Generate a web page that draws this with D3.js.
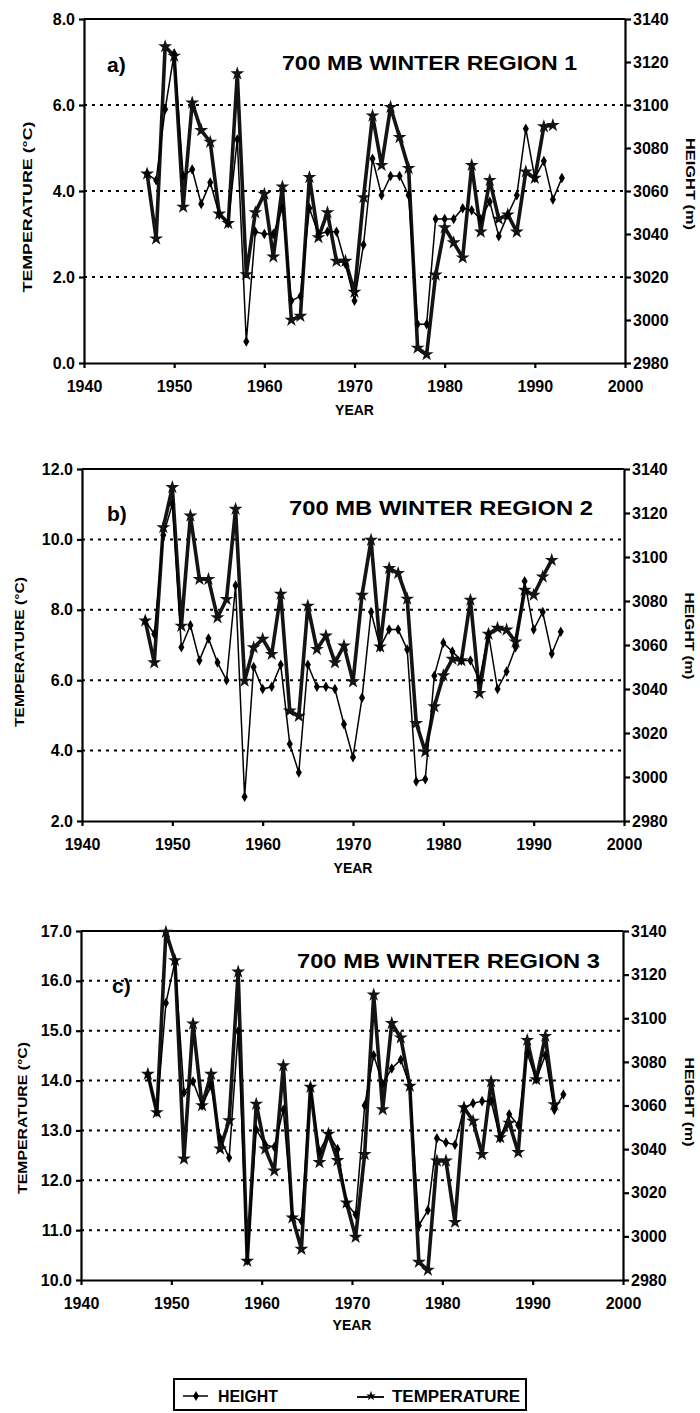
<!DOCTYPE html>
<head>
  <meta charset="utf-8">
  <title>700 MB Winter Regions</title>
  <script src="https://cdnjs.cloudflare.com/ajax/libs/d3/7.8.5/d3.min.js"></script>
</head>

<style>
  body {
    margin: 0;
    background: #fff;
    font-family: "Liberation Sans", Arial, sans-serif;
  }
  text {
    fill: #000;
  }
  .grid line {
    stroke: #000;
    stroke-width: 2;
    stroke-dasharray: 3 5;
  }
  .axis path, .axis line {
    stroke: #000;
    stroke-width: 2.2;
  }
  .axis text {
    font: bold 16px "Liberation Sans", Arial, sans-serif;
    fill: #000;
  }
  .temp-line {
    fill: none;
    stroke: #141414;
    stroke-width: 3.6;
    stroke-linejoin: round;
  }
  .height-line {
    fill: none;
    stroke: #000;
    stroke-width: 1.5;
  }
</style>

<body>
  <svg id="chart" width="700" height="1413"></svg>
</body>

<script>

var years = [1947, 1948, 1949, 1950, 1951, 1952, 1953, 1954, 1955, 1956,
             1957, 1958, 1959, 1960, 1961, 1962, 1963, 1964, 1965, 1966,
             1967, 1968, 1969, 1970, 1971, 1972, 1973, 1974, 1975, 1976,
             1977, 1978, 1979, 1980, 1981, 1982, 1983, 1984, 1985, 1986,
             1987, 1988, 1989, 1990, 1991, 1992, 1993];

// temperature (deg C), 1947-1992
var temp_a = [4.40, 2.89, 7.36, 7.14, 3.63, 6.05, 5.41, 5.14, 3.47, 3.25,
              6.73, 2.06, 3.50, 3.93, 2.47, 4.10, 1.00, 1.09, 4.32, 2.92,
              3.50, 2.37, 2.37, 1.65, 3.85, 5.75, 4.60, 5.95, 5.25, 4.53,
              0.35, 0.20, 2.05, 3.15, 2.80, 2.45, 4.60, 3.05, 4.25, 3.35,
              3.45, 3.05, 4.45, 4.30, 5.50, 5.53];
// height (m), 1947-1993
var height_a = [3068, 3065, 3098, 3124, 3067, 3070, 3054, 3064, 3049, 3045,
                3084, 2990, 3041, 3040, 3040, 3052, 3009, 3011, 3052, 3040,
                3041, 3041, 3026, 3009, 3035, 3075, 3058, 3067, 3067, 3058,
                2998, 2998, 3047, 3047, 3047, 3052, 3051, 3047, 3055, 3039,
                3049, 3058, 3089, 3066, 3074, 3056, 3066];

var temp_b = [7.69, 6.50, 10.34, 11.48, 7.54, 10.67, 8.87, 8.87, 7.78, 8.30,
              10.86, 5.98, 6.93, 7.17, 6.74, 8.45, 5.13, 4.98, 8.11, 6.88,
              7.26, 6.50, 6.98, 5.96, 8.42, 9.98, 6.95, 9.18, 9.04, 8.31,
              4.78, 3.97, 5.25, 6.13, 6.60, 6.56, 8.28, 5.63, 7.31, 7.48,
              7.43, 7.09, 8.56, 8.42, 8.94, 9.41];
var height_b = [3071, 3065, 3110, 3124, 3059, 3069, 3053, 3063, 3052, 3044,
                3087, 2991, 3050, 3040, 3041, 3051, 3015, 3002, 3051, 3041,
                3041, 3040, 3024, 3009, 3036, 3075, 3059, 3067, 3067, 3058,
                2998, 2999, 3046, 3061, 3057, 3053, 3053, 3044, 3065, 3040,
                3048, 3059, 3089, 3067, 3075, 3056, 3066];

var temp_c = [14.13, 13.36, 16.98, 16.41, 12.43, 15.14, 13.50, 14.13, 12.63, 13.20,
              16.18, 10.38, 13.53, 12.63, 12.19, 14.30, 11.25, 10.62, 13.87, 12.36,
              12.93, 12.40, 11.55, 10.86, 12.52, 15.72, 13.42, 15.15, 14.86, 13.89,
              10.36, 10.20, 12.39, 12.39, 11.16, 13.46, 13.19, 12.52, 13.98, 12.86,
              13.15, 12.56, 14.81, 14.02, 14.89, 13.52];
var height_c = [3074, 3057, 3107, 3126, 3066, 3071, 3060, 3069, 3045, 3036,
                3094, 2989, 3049, 3042, 3041, 3058, 3009, 3007, 3068, 3039,
                3047, 3040, 3015, 3010, 3060, 3083, 3070, 3077, 3081, 3069,
                3005, 3012, 3045, 3043, 3042, 3059, 3061, 3062, 3062, 3045,
                3056, 3051, 3084, 3072, 3083, 3058, 3065];

var year_ticks = [1940, 1950, 1960, 1970, 1980, 1990, 2000];
var height_ticks = [2980, 3000, 3020, 3040, 3060, 3080, 3100, 3120, 3140];
var temp_ticks_a = [0, 2, 4, 6, 8];
var temp_ticks_b = [2, 4, 6, 8, 10, 12];
var temp_ticks_c = [10, 11, 12, 13, 14, 15, 16, 17];

var titles = ['700 MB WINTER REGION 1', '700 MB WINTER REGION 2', '700 MB WINTER REGION 3'];
var letters = ['a)', 'b)', 'c)'];

var panels = [
  {temp: temp_a, height: height_a, tticks: temp_ticks_a,
   left: 84, right: 625, top: 19, bottom: 363, shift: 0,
   title_x: 282, title_y: 70, title_w: 295, letter_x: 107, letter_y: 72,
   tl_x: 27, tl_y: 207, tl_w: 171, hl_x: 691, hl_y: 184, hl_w: 92, year_y: 410},
  {temp: temp_b, height: height_b, tticks: temp_ticks_b,
   left: 82, right: 624, top: 469, bottom: 821, shift: 0,
   title_x: 289, title_y: 515, title_w: 304, letter_x: 107, letter_y: 521,
   tl_x: 19, tl_y: 652, tl_w: 150, hl_x: 690, hl_y: 636, hl_w: 87, year_y: 868},
  {temp: temp_c, height: height_c, tticks: temp_ticks_c,
   left: 81, right: 623, top: 931, bottom: 1280, shift: 0.4,
   title_x: 297, title_y: 968, title_w: 303, letter_x: 112, letter_y: 993,
   tl_x: 22, tl_y: 1118, tl_w: 152, hl_x: 690, hl_y: 1102, hl_w: 89, year_y: 1325}
];

var svg = d3.select('#chart');

panels.forEach(function(p, i) {

  var x = d3.scaleLinear().domain([1940, 2000]).range([p.left, p.right]);
  var y_t = d3.scaleLinear().domain(d3.extent(p.tticks)).range([p.bottom, p.top]);
  var y_h = d3.scaleLinear().domain([2980, 3140]).range([p.bottom, p.top]);

  var g = svg.append('g').attr('class', 'panel');

  // dotted gridlines at the inner temperature ticks
  g.append('g')
    .attr('class', 'grid')
    .selectAll('line')
    .data(p.tticks.slice(1, -1))
    .enter()
    .append('line')
    .attr('x1', p.left)
    .attr('x2', p.right)
    .attr('y1', function(d) { return y_t(d); })
    .attr('y2', function(d) { return y_t(d); });

  // top border
  g.append('line')
    .attr('x1', p.left).attr('x2', p.right)
    .attr('y1', p.top).attr('y2', p.top)
    .attr('stroke', '#000').attr('stroke-width', 1.8);

  g.append('g')
    .attr('class', 'axis')
    .attr('transform', 'translate(' + p.left + ',0)')
    .call(d3.axisLeft(y_t).tickValues(p.tticks).tickFormat(d3.format('.1f'))
      .tickSize(5).tickSizeOuter(0).tickPadding(4));

  g.append('g')
    .attr('class', 'axis')
    .attr('transform', 'translate(' + p.right + ',0)')
    .call(d3.axisRight(y_h).tickValues(height_ticks).tickFormat(d3.format('d'))
      .tickSize(6).tickSizeOuter(0).tickPadding(2));

  g.append('g')
    .attr('class', 'axis')
    .attr('transform', 'translate(0,' + p.bottom + ')')
    .call(d3.axisBottom(x).tickValues(year_ticks).tickFormat(d3.format('d'))
      .tickSize(5).tickSizeOuter(0).tickPadding(13));

  var temp_pts = p.temp.map(function(v, j) { return [years[j] + p.shift, v]; });
  var height_pts = p.height.map(function(v, j) { return [years[j] + p.shift, v]; });

  var temp_line = d3.line()
    .x(function(d) { return x(d[0]); })
    .y(function(d) { return y_t(d[1]); });
  var height_line = d3.line()
    .x(function(d) { return x(d[0]); })
    .y(function(d) { return y_h(d[1]); });

  g.append('path').datum(temp_pts).attr('class', 'temp-line').attr('d', temp_line);
  g.selectAll('.star')
    .data(temp_pts)
    .enter()
    .append('path')
    .attr('class', 'star')
    .attr('transform', function(d) { return 'translate(' + x(d[0]) + ',' + y_t(d[1]) + ')'; })
    .attr('d', d3.symbol(d3.symbolStar).size(60))
    .attr('fill', '#141414');

  g.append('path').datum(height_pts).attr('class', 'height-line').attr('d', height_line);
  g.selectAll('.diamond')
    .data(height_pts)
    .enter()
    .append('path')
    .attr('class', 'diamond')
    .attr('transform', function(d) { return 'translate(' + x(d[0]) + ',' + y_h(d[1]) + ')'; })
    .attr('d', d3.symbol(d3.symbolDiamond).size(32))
    .attr('fill', '#000');

  // labels
  g.append('text')
    .attr('x', p.title_x).attr('y', p.title_y)
    .attr('textLength', p.title_w).attr('lengthAdjust', 'spacingAndGlyphs')
    .style('font', 'bold 21px "Liberation Sans", Arial, sans-serif')
    .text(titles[i]);

  g.append('text')
    .attr('x', p.letter_x).attr('y', p.letter_y)
    .style('font', 'bold 21px "Liberation Sans", Arial, sans-serif')
    .text(letters[i]);

  g.append('text')
    .attr('transform', 'translate(' + p.tl_x + ',' + p.tl_y + ') rotate(-90)')
    .attr('text-anchor', 'middle').attr('dy', '0.35em')
    .attr('textLength', p.tl_w).attr('lengthAdjust', 'spacingAndGlyphs')
    .style('font', 'bold 13px "Liberation Sans", Arial, sans-serif')
    .text('TEMPERATURE (\u00B0C)');

  g.append('text')
    .attr('transform', 'translate(' + p.hl_x + ',' + p.hl_y + ') rotate(90)')
    .attr('text-anchor', 'middle').attr('dy', '0.35em')
    .attr('textLength', p.hl_w).attr('lengthAdjust', 'spacingAndGlyphs')
    .style('font', 'bold 13px "Liberation Sans", Arial, sans-serif')
    .text('HEIGHT (m)');

  g.append('text')
    .attr('x', (p.left + p.right) / 2).attr('y', p.year_y)
    .attr('text-anchor', 'middle').attr('dy', '0.35em')
    .style('font', 'bold 14px "Liberation Sans", Arial, sans-serif')
    .text('YEAR');
});

// legend
var lg = svg.append('g').attr('class', 'legend');
lg.append('rect')
  .attr('x', 174).attr('y', 1379).attr('width', 352).attr('height', 31)
  .attr('fill', 'none').attr('stroke', '#000').attr('stroke-width', 2);

lg.append('line')
  .attr('x1', 183).attr('x2', 208).attr('y1', 1396).attr('y2', 1396)
  .attr('stroke', '#000').attr('stroke-width', 1.5);
lg.append('path')
  .attr('transform', 'translate(196,1396)')
  .attr('d', d3.symbol(d3.symbolDiamond).size(30));
lg.append('text')
  .attr('x', 218).attr('y', 1402)
  .attr('textLength', 60).attr('lengthAdjust', 'spacingAndGlyphs')
  .style('font', 'bold 16px "Liberation Sans", Arial, sans-serif')
  .text('HEIGHT');

lg.append('line')
  .attr('x1', 357).attr('x2', 384).attr('y1', 1397).attr('y2', 1397)
  .attr('stroke', '#141414').attr('stroke-width', 2);
lg.append('path')
  .attr('transform', 'translate(371,1396)')
  .attr('d', d3.symbol(d3.symbolStar).size(30));
lg.append('text')
  .attr('x', 392).attr('y', 1402)
  .attr('textLength', 128).attr('lengthAdjust', 'spacingAndGlyphs')
  .style('font', 'bold 16px "Liberation Sans", Arial, sans-serif')
  .text('TEMPERATURE');

</script>
